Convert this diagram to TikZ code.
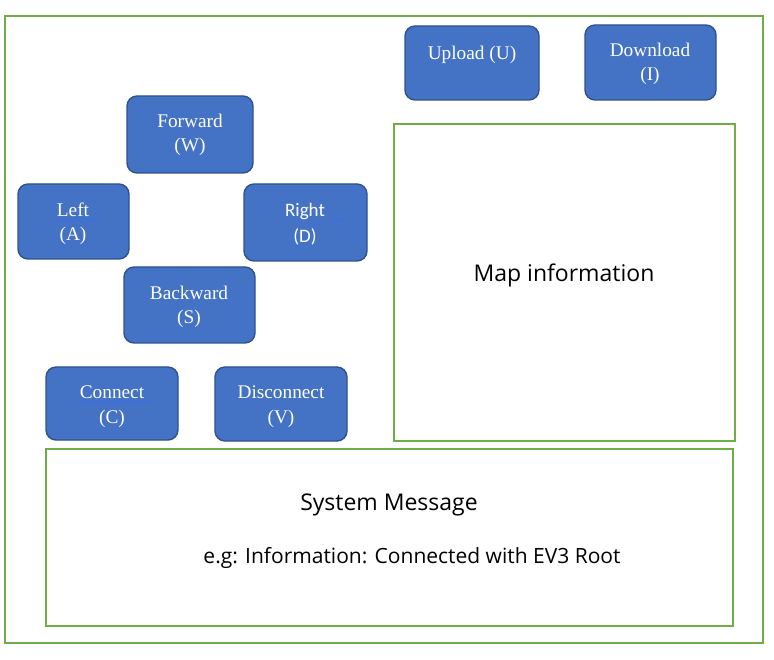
\documentclass[tikz,border=0pt]{standalone}
\usepackage{fontspec}
\setmainfont{Liberation Serif}
\newfontfamily\calfont{Carlito}
\newfontfamily\uifont{Open Sans}
\definecolor{grn}{HTML}{70AD47}
\definecolor{btnfill}{HTML}{4472C4}
\definecolor{btnedge}{HTML}{2F528F}
\definecolor{spell}{HTML}{3B6FE0}
\begin{document}
\begin{tikzpicture}[x=1pt,y=-1pt,
  frame/.style={draw=grn,line width=1.6pt},
  btn/.style={draw=btnedge,fill=btnfill,line width=1.4pt,rounded corners=10pt},
  btxt/.style={text=white,font=\fontsize{19.3}{22}\selectfont,inner sep=0pt,anchor=base},
  ctxt/.style={text=white,font=\calfont\fontsize{19}{22}\selectfont,inner sep=0pt,anchor=base},
  utxt/.style={text=black,font=\uifont\fontsize{23}{26}\selectfont,inner sep=0pt,anchor=base},
  sp/.style={draw=spell,line width=0.7pt}]
\useasboundingbox (0,0) rectangle (774,660);
\draw[frame] (5,16) rectangle (763,643);
% buttons
\draw[btn] (405,26) rectangle (539,100);
\node[btxt] (up) at (472,60) {Upload (U)};
\draw[btn] (585,25) rectangle (716,100);
\node[btxt] (dl1) at (650,57) {Download};
\node[btxt] (dl2) at (650,81) {(I)};
\draw[btn] (127,96) rectangle (253,173);
\node[btxt] (fw1) at (190,128) {Forward};
\node[btxt] (fw2) at (190,152) {(W)};
\draw[btn] (18,184) rectangle (129,259);
\node[btxt] (lf1) at (73,217) {Left};
\node[btxt] (lf2) at (73,241) {(A)};
\draw[btn] (244,184) rectangle (367,261);
\node[ctxt] (rt1) at (305,217) {Right};
\node[ctxt] (rt2) at (305,243) {(D)};
\draw[btn] (124,267) rectangle (255,343);
\node[btxt] (bw1) at (189,300) {Backward};
\node[btxt] (bw2) at (189,324) {(S)};
\draw[btn] (46,367) rectangle (178,440);
\node[btxt] (cn1) at (112,399) {Connect};
\node[btxt] (cn2) at (112,423) {(C)};
\draw[btn] (215,367) rectangle (347,441);
\node[btxt] (dc1) at (281,399) {Disconnect};
\node[btxt] (dc2) at (281,423) {(V)};
% spell-check marks
\draw[sp] (57,218.5) -- (99,218.5) (57,220.5) -- (99,220.5);
\draw[sp] (60,244) -- (64,244);
\draw[sp] (334,218.5) -- (347,218.5) (334,220.5) -- (347,220.5);
\draw[sp] (295,247) -- (299,247);
\draw[sp] (80,400.5) -- (152,400.5) (80,402.5) -- (152,402.5);
\draw[sp] (100,427) -- (104,427);
% map and system boxes
\draw[frame,line width=1.3pt] (394,124) rectangle (735,441);
\node[utxt] (map) at (564,282) {Map information};
\draw[frame,line width=1.3pt] (46,449) rectangle (733,626);
\node[utxt] (sys1) at (389,510) {System Message};
\node[utxt,font=\uifont\fontsize{21}{24}\selectfont] (sys2) at (412,563) {e.g: Information: Connected with EV3 Root};
\end{tikzpicture}
\end{document}
